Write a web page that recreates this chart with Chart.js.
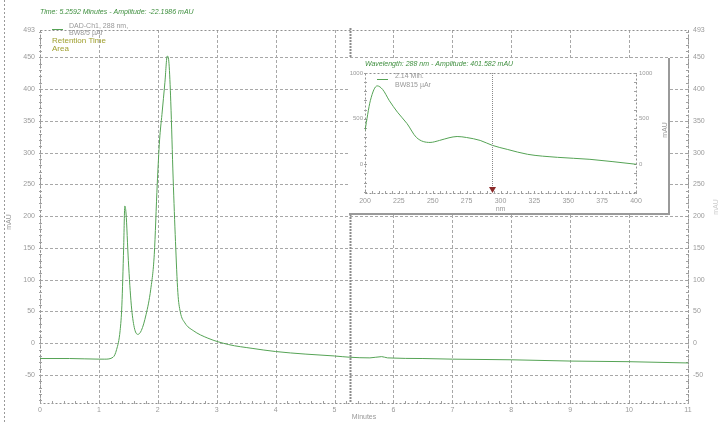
<!DOCTYPE html>
<html><head><meta charset="utf-8">
<script src="https://cdn.jsdelivr.net/npm/chart.js@4.4.0/dist/chart.umd.min.js"></script>
<style>
html,body{margin:0;padding:0;background:#fff;}
#wrap{position:relative;width:719px;height:422px;overflow:hidden;}
#main{position:absolute;left:0;top:0;}
#insetBox{position:absolute;left:349px;top:58px;width:321px;height:157px;background:#fff;border-right:2px solid #9a9a9a;border-bottom:2px solid #9a9a9a;box-sizing:border-box;}
#inset{position:absolute;left:0;top:0;}
</style></head><body>
<div id="wrap">
<canvas id="main" width="719" height="422"></canvas>
<div id="insetBox"><canvas id="inset" width="319" height="155"></canvas></div>
</div>
<script>
// ---- chromatogram data (Minutes, mAU) ----
const times = [0, 0.5, 1.0, 1.1, 1.24, 1.3, 1.36, 1.39, 1.42, 1.44, 1.46, 1.5, 1.55, 1.6, 1.66, 1.72, 1.8, 1.88, 1.94, 1.99, 2.03, 2.07, 2.12, 2.16, 2.19, 2.22, 2.26, 2.3, 2.34, 2.38, 2.46, 2.6, 2.85, 3.2, 3.6, 4.0, 4.5, 5.0, 5.26, 5.6, 5.8, 5.9, 6.5, 7.0, 8.0, 9.0, 10.0, 11.0];
const mau   = [-24, -24, -25, -25, -22, -10, 20, 60, 150, 216, 205, 130, 60, 25, 14, 20, 45, 85, 140, 250, 320, 360, 410, 452, 440, 380, 260, 160, 80, 50, 32, 20, 8, -2, -8, -13, -17, -20, -22, -23, -21, -23, -24, -25, -26, -28, -29, -31];
const timeTicks = [0, 1, 2, 3, 4, 5, 6, 7, 8, 9, 10, 11];
const mauTicks = [-50, 0, 50, 100, 150, 200, 250, 300, 350, 400, 450];
const mauMin = -94, mauMax = 493;
const cursorTime = 5.2592;

// ---- UV spectrum data (nm, mAU) ----
const wavelengths = [200, 204, 209, 213, 218, 224, 231, 238, 248, 255, 262, 268, 275, 285, 294, 305, 320, 342, 366, 400];
const spectrum    = [370, 700, 859, 820, 696, 570, 446, 293, 239, 261, 290, 304, 293, 261, 207, 163, 109, 76, 54, 0];
const nmTicks = [200, 225, 250, 275, 300, 325, 350, 375, 400];
const specTicks = [0, 500, 1000];
const specMin = -315, specMax = 1000;
const cursorNm = 294;

const FONT = 'Liberation Sans, Arial, sans-serif';
const GREEN = '#55a355';
const TICKCOL = '#9a9a9a';

function drawFrame(chart, xs, ys, xMinorStep, yMinorStep) {
  const ctx = chart.ctx, a = chart.chartArea;
  const x = chart.scales.x, y = chart.scales.y;
  ctx.save();
  ctx.strokeStyle = '#a8a8a8'; ctx.lineWidth = 1;
  ctx.setLineDash([3, 2]);
  if (xs) xs.forEach(v => { const px = Math.round(x.getPixelForValue(v)) + 0.5; ctx.beginPath(); ctx.moveTo(px, a.top); ctx.lineTo(px, a.bottom); ctx.stroke(); });
  if (ys) ys.forEach(v => { const py = Math.round(y.getPixelForValue(v)) + 0.5; ctx.beginPath(); ctx.moveTo(a.left, py); ctx.lineTo(a.right, py); ctx.stroke(); });
  ctx.strokeStyle = '#909090';
  ctx.setLineDash([2, 2]);
  ctx.strokeRect(Math.round(a.left) + 0.5, Math.round(a.top) + 0.5, Math.round(a.right - a.left), Math.round(a.bottom - a.top));
  ctx.setLineDash([]);
  ctx.strokeStyle = '#a0a0a0';
  for (let v = Math.ceil(x.min / xMinorStep) * xMinorStep; v <= x.max + 1e-9; v += xMinorStep) {
    const px = Math.round(x.getPixelForValue(v)) + 0.5;
    ctx.beginPath(); ctx.moveTo(px, a.bottom - 2); ctx.lineTo(px, a.bottom + 1); ctx.stroke();
  }
  for (let v = Math.ceil(y.min / yMinorStep) * yMinorStep; v <= y.max + 1e-9; v += yMinorStep) {
    const py = Math.round(y.getPixelForValue(v)) + 0.5;
    ctx.beginPath(); ctx.moveTo(a.left - 1, py); ctx.lineTo(a.left + 2, py); ctx.stroke();
    ctx.beginPath(); ctx.moveTo(a.right - 2, py); ctx.lineTo(a.right + 1, py); ctx.stroke();
  }
  ctx.restore();
}

const mainPlugin = {
  id: 'mainDeco',
  beforeDatasetsDraw(chart) {
    drawFrame(chart, timeTicks, mauTicks, 0.2, 10);
  },
  afterDraw(chart) {
    const ctx = chart.ctx, a = chart.chartArea, x = chart.scales.x;
    ctx.save();
    const cx = Math.round(x.getPixelForValue(cursorTime)) + 0.5;
    ctx.strokeStyle = '#8c8c8c'; ctx.lineWidth = 2; ctx.setLineDash([2, 1]);
    ctx.beginPath(); ctx.moveTo(cx, a.top - 2); ctx.lineTo(cx, a.bottom); ctx.stroke();
    ctx.lineWidth = 1; ctx.setLineDash([2, 2]); ctx.strokeStyle = '#9a9a9a';
    ctx.beginPath(); ctx.moveTo(4.5, 0); ctx.lineTo(4.5, 422); ctx.stroke();
    ctx.setLineDash([]);
    ctx.fillStyle = '#3f8f3f'; ctx.font = 'italic 7px ' + FONT; ctx.textBaseline = 'middle';
    ctx.fillText('Time: 5.2592 Minutes - Amplitude: -22.1986 mAU', 40, 12);
    ctx.strokeStyle = GREEN; ctx.lineWidth = 1;
    ctx.beginPath(); ctx.moveTo(52, 29.5); ctx.lineTo(63, 29.5); ctx.stroke();
    ctx.fillStyle = '#999'; ctx.font = '7px ' + FONT;
    ctx.fillText('DAD-Ch1, 288 nm,', 69, 26);
    ctx.fillText('BW8/5 µAr', 69, 33);
    ctx.fillStyle = '#a0a030'; ctx.font = '8px ' + FONT;
    ctx.fillText('Retention Time', 52, 41);
    ctx.fillText('Area', 52, 49);
    ctx.fillStyle = '#999'; ctx.font = '7px ' + FONT; ctx.textAlign = 'center';
    ctx.fillText('Minutes', (a.left + a.right) / 2, 417);
    ctx.save(); ctx.translate(9, 222); ctx.rotate(-Math.PI / 2); ctx.fillText('mAU', 0, 0); ctx.restore();
    ctx.fillStyle = '#cccccc';
    ctx.save(); ctx.translate(716, 207); ctx.rotate(-Math.PI / 2); ctx.fillText('mAU', 0, 0); ctx.restore();
    ctx.restore();
  }
};

const tickFont = { family: FONT, size: 7 };

new Chart(document.getElementById('main'), {
  type: 'line',
  data: { datasets: [{
    data: times.map((t, i) => ({ x: t, y: mau[i] })),
    borderColor: GREEN, borderWidth: 1, pointRadius: 0, cubicInterpolationMode: 'monotone', yAxisID: 'y'
  }]},
  options: {
    responsive: false, animation: false, devicePixelRatio: 1,
    layout: { padding: { top: 30, left: 0, right: 0, bottom: 0 } },
    plugins: { legend: { display: false }, tooltip: { enabled: false } },
    scales: {
      x: { type: 'linear', min: 0, max: 11,
        afterBuildTicks: s => { s.ticks = timeTicks.map(v => ({ value: v })); },
        afterFit: s => { s.height = 19; },
        grid: { display: false, drawTicks: false }, border: { display: false },
        ticks: { font: tickFont, color: TICKCOL, padding: 3, maxRotation: 0 } },
      y: { type: 'linear', position: 'left', min: mauMin, max: mauMax,
        afterBuildTicks: s => { s.ticks = mauTicks.concat([mauMax]).map(v => ({ value: v })); },
        afterFit: s => { s.width = 40; },
        grid: { display: false, drawTicks: false }, border: { display: false },
        ticks: { font: tickFont, color: TICKCOL, padding: 5, callback: v => String(Math.round(v)) } },
      y2: { type: 'linear', position: 'right', min: mauMin, max: mauMax,
        afterBuildTicks: s => { s.ticks = mauTicks.concat([mauMax]).map(v => ({ value: v })); },
        afterFit: s => { s.width = 31; },
        grid: { display: false, drawTicks: false }, border: { display: false },
        ticks: { font: tickFont, color: TICKCOL, padding: 5, callback: v => String(Math.round(v)) } }
    }
  },
  plugins: [mainPlugin]
});

const insetPlugin = {
  id: 'insetDeco',
  beforeDatasetsDraw(chart) {
    drawFrame(chart, null, null, 5, 100);
  },
  afterDraw(chart) {
    const ctx = chart.ctx, a = chart.chartArea, x = chart.scales.x;
    ctx.save();
    const cx = Math.round(x.getPixelForValue(cursorNm)) + 0.5;
    ctx.strokeStyle = '#8a8a8a'; ctx.lineWidth = 1; ctx.setLineDash([1, 1]);
    ctx.beginPath(); ctx.moveTo(cx, a.top); ctx.lineTo(cx, a.bottom); ctx.stroke();
    ctx.setLineDash([]);
    ctx.fillStyle = '#8b2a2a';
    ctx.beginPath(); ctx.moveTo(cx - 3.5, a.bottom - 6); ctx.lineTo(cx + 3.5, a.bottom - 6); ctx.lineTo(cx, a.bottom); ctx.closePath(); ctx.fill();
    ctx.fillStyle = '#3f8f3f'; ctx.font = 'italic 7px ' + FONT; ctx.textBaseline = 'middle';
    ctx.fillText('Wavelength: 288 nm - Amplitude: 401.582 mAU', 16, 6);
    ctx.strokeStyle = GREEN; ctx.lineWidth = 1;
    ctx.beginPath(); ctx.moveTo(28, 21.5); ctx.lineTo(39, 21.5); ctx.stroke();
    ctx.fillStyle = '#999'; ctx.font = '7px ' + FONT;
    ctx.fillText('2.14 Min.', 46, 18);
    ctx.fillText('BW815 µAr', 46, 27);
    ctx.textAlign = 'center';
    ctx.fillText('nm', (a.left + a.right) / 2, 151);
    ctx.save(); ctx.translate(316, 72); ctx.rotate(-Math.PI / 2); ctx.fillText('mAU', 0, 0); ctx.restore();
    ctx.restore();
  }
};

new Chart(document.getElementById('inset'), {
  type: 'line',
  data: { datasets: [{
    data: wavelengths.map((w, i) => ({ x: w, y: spectrum[i] })),
    borderColor: GREEN, borderWidth: 1, pointRadius: 0, cubicInterpolationMode: 'monotone', yAxisID: 'y'
  }]},
  options: {
    responsive: false, animation: false, devicePixelRatio: 1,
    layout: { padding: { top: 15, left: 0, right: 0, bottom: 0 } },
    plugins: { legend: { display: false }, tooltip: { enabled: false } },
    scales: {
      x: { type: 'linear', min: 200, max: 400,
        afterBuildTicks: s => { s.ticks = nmTicks.map(v => ({ value: v })); },
        afterFit: s => { s.height = 20; },
        grid: { display: false, drawTicks: false }, border: { display: false },
        ticks: { font: tickFont, color: TICKCOL, padding: 4, maxRotation: 0 } },
      y: { type: 'linear', position: 'left', min: specMin, max: specMax,
        afterBuildTicks: s => { s.ticks = specTicks.map(v => ({ value: v })); },
        afterFit: s => { s.width = 16; },
        grid: { display: false, drawTicks: false }, border: { display: false },
        ticks: { font: { family: FONT, size: 6 }, color: TICKCOL, padding: 2, callback: v => String(v) } },
      y2: { type: 'linear', position: 'right', min: specMin, max: specMax,
        afterBuildTicks: s => { s.ticks = specTicks.map(v => ({ value: v })); },
        afterFit: s => { s.width = 32; },
        grid: { display: false, drawTicks: false }, border: { display: false },
        ticks: { font: { family: FONT, size: 6 }, color: TICKCOL, padding: 3, callback: v => String(v) } }
    }
  },
  plugins: [insetPlugin]
});
</script>
</body></html>
